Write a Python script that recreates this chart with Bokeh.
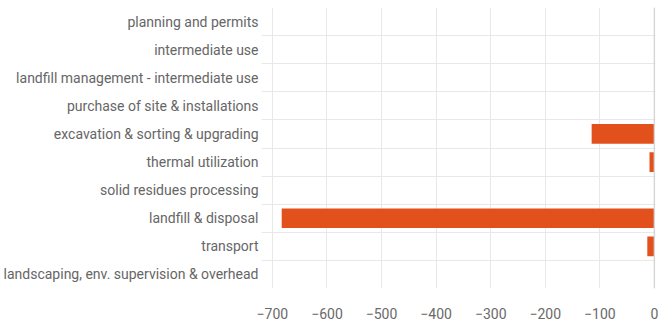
from bokeh.plotting import figure
from bokeh.models import Range1d, FixedTicker, ColumnDataSource, Span
from bokeh.embed import file_html
from bokeh.resources import INLINE

categories = [
    "planning and permits",
    "intermediate use",
    "landfill management - intermediate use",
    "purchase of site & installations",
    "excavation & sorting & upgrading",
    "thermal utilization",
    "solid residues processing",
    "landfill & disposal",
    "transport",
    "landscaping, env. supervision & overhead",
]
values = [0, 0, 0, 0, -115, -9, 0, -683, -13, 0]
x_ticks = [-700, -600, -500, -400, -300, -200, -100, 0]

n = len(categories)
ypos = [n - i - 0.5 for i in range(n)]
src = ColumnDataSource(dict(y=ypos, left=values, right=[0] * n, cat=categories))

SHIFT = 12
XMIN, XMAX = -720, 2
p = figure(width=661 + SHIFT, height=321, output_backend="svg", toolbar_location=None,
           x_range=Range1d(XMIN, XMAX), y_range=Range1d(0, n),
           min_border_left=261 + SHIFT, min_border_right=6, min_border_top=7, min_border_bottom=30)
p.styles = {"margin-left": f"-{SHIFT}px"}

p.hbar(y="y", left="left", right="right", height=0.7, source=src,
       fill_color="#e2501c", line_color=None)

p.outline_line_color = None
p.background_fill_color = "white"
p.border_fill_color = "white"

p.xaxis.ticker = FixedTicker(ticks=x_ticks)
p.xaxis.axis_line_color = None
p.xaxis.major_tick_line_color = None
p.xaxis.minor_tick_line_color = None
p.xaxis.major_label_text_font = "Roboto"
p.xaxis.major_label_text_font_size = "14px"
p.xaxis.major_label_text_color = "#6a6a6a"
p.xaxis.major_label_standoff = 13

p.yaxis.ticker = FixedTicker(ticks=ypos)
p.yaxis.major_label_overrides = {y: c for y, c in zip(ypos, categories)}
p.yaxis.axis_line_color = None
p.yaxis.major_tick_line_color = None
p.yaxis.minor_tick_line_color = None
p.yaxis.major_tick_out = 0
p.yaxis.major_tick_in = 0
p.yaxis.minor_tick_out = 0
p.yaxis.major_label_text_font = "Roboto"
p.yaxis.major_label_text_font_size = "14px"
p.yaxis.major_label_text_color = "#666666"
p.yaxis.major_label_standoff = 3

p.xgrid.ticker = FixedTicker(ticks=x_ticks)
p.xgrid.grid_line_color = "#e8e8e8"
p.ygrid.ticker = FixedTicker(ticks=list(range(0, n + 1)))
p.ygrid.grid_line_color = "#e8e8e8"

p.add_layout(Span(location=0, dimension="height", line_color="#d6d6d6", line_width=1.5))

open("out.html", "w").write(file_html(p, INLINE))
